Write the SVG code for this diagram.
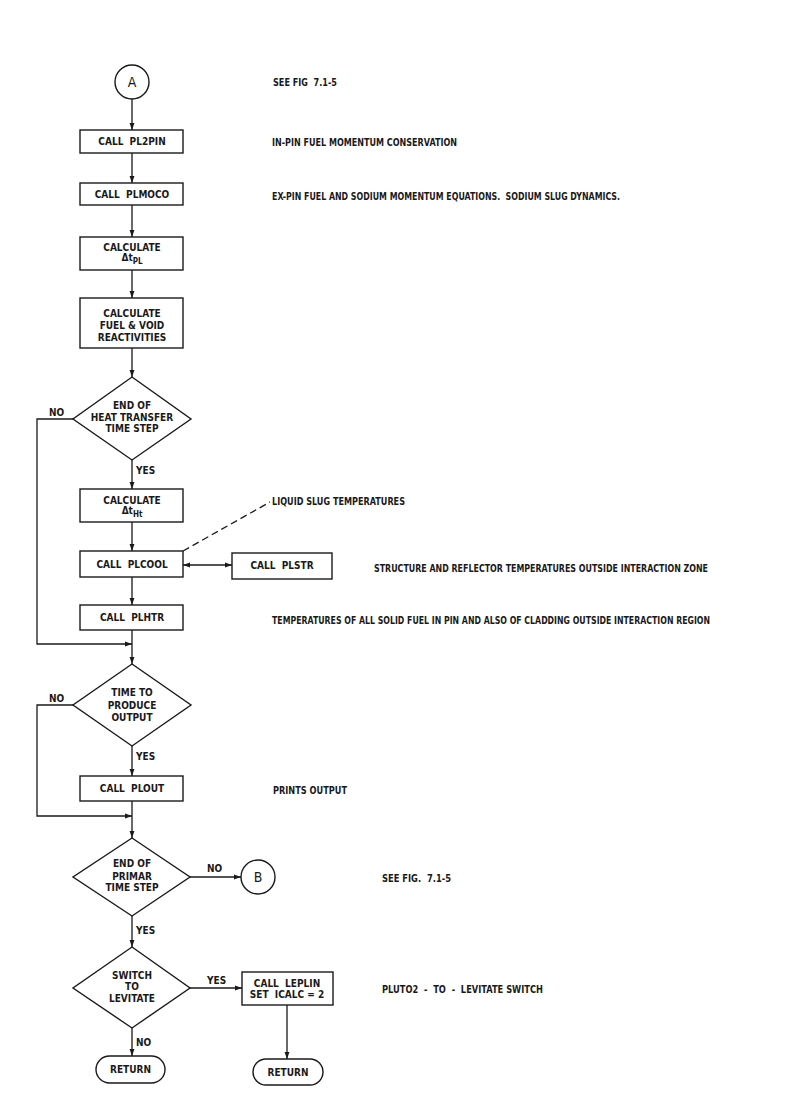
<svg xmlns="http://www.w3.org/2000/svg" width="791" height="1100" viewBox="0 0 791 1100">
<defs>
<marker id="ah" viewBox="0 0 10 10" refX="10" refY="5" markerWidth="7" markerHeight="7" markerUnits="userSpaceOnUse" orient="auto-start-reverse">
<path d="M0,1.5 L10,5 L0,8.5 z" fill="#1a1a1a"/>
</marker>
<style>
.s{fill:#fff;stroke:#1a1a1a;stroke-width:1.4}
.c{fill:none;stroke:#1a1a1a;stroke-width:1.3}
.a{marker-end:url(#ah)}
.d{stroke-dasharray:7,4}
text{font-family:'Liberation Sans Narrow','DejaVu Sans Condensed','Liberation Sans',sans-serif;font-weight:bold;font-size:10px;fill:#1a1a1a;white-space:pre}
.m{text-anchor:middle}
.sub{font-size:8px}
.big{font-size:14px;font-weight:normal}
</style>
</defs>
<rect width="791" height="1100" fill="#fff"/>

<g id="connectors">
<line class="c a" x1="132" y1="99" x2="132" y2="130"/>
<line class="c a" x1="132" y1="153" x2="132" y2="183"/>
<line class="c a" x1="132" y1="205" x2="132" y2="237"/>
<line class="c a" x1="132" y1="270" x2="132" y2="298"/>
<line class="c a" x1="132" y1="348" x2="132" y2="377"/>
<polyline class="c a" points="73,419 37,419 37,644 132,644"/>
<line class="c a" x1="132" y1="460" x2="132" y2="489"/>
<line class="c a" x1="132" y1="522" x2="132" y2="551"/>
<line class="c" x1="183" y1="565" x2="232" y2="565" marker-start="url(#ah)" marker-end="url(#ah)"/>
<line class="c d" x1="183" y1="551" x2="270" y2="502"/>
<line class="c a" x1="132" y1="577" x2="132" y2="605"/>
<line class="c a" x1="132" y1="630" x2="132" y2="664"/>
<polyline class="c a" points="73,705 37,705 37,816 132,816"/>
<line class="c a" x1="132" y1="746" x2="132" y2="776"/>
<line class="c a" x1="132" y1="801" x2="132" y2="838"/>
<line class="c a" x1="190" y1="877" x2="241" y2="877"/>
<line class="c a" x1="132" y1="916" x2="132" y2="947"/>
<line class="c a" x1="190" y1="988" x2="242" y2="988"/>
<line class="c a" x1="287" y1="1005" x2="287" y2="1059"/>
<line class="c a" x1="132" y1="1028" x2="132" y2="1056"/>
<text x="49" y="416">NO</text>
<text x="136" y="474">YES</text>
<text x="49" y="702">NO</text>
<text x="136" y="760">YES</text>
<text x="207" y="872">NO</text>
<text x="136" y="934">YES</text>
<text x="207" y="984">YES</text>
<text x="136" y="1046">NO</text>
</g>

<g id="nodeA"><circle class="s" cx="132" cy="82" r="17"/><text class="m big" x="132" y="87">A</text></g>
<g id="pl2pin"><rect class="s" x="80" y="130" width="103" height="23"/><text class="m" x="132" y="145">CALL  PL2PIN</text></g>
<g id="plmoco"><rect class="s" x="80" y="183" width="103" height="22"/><text class="m" x="132" y="198">CALL  PLMOCO</text></g>
<g id="calcPL"><rect class="s" x="80" y="237" width="103" height="33"/><text class="m" x="132" y="251">CALCULATE</text><text class="m" x="132" y="261">Δt<tspan class="sub" dy="3">PL</tspan></text></g>
<g id="fuelvoid"><rect class="s" x="80" y="298" width="103" height="50"/><text class="m" x="132" y="317">CALCULATE</text><text class="m" x="132" y="329">FUEL &amp; VOID</text><text class="m" x="132" y="341">REACTIVITIES</text></g>
<g id="dec1"><polygon class="s" points="132,377 191,419 132,460 73,419"/><text class="m" x="132" y="409">END OF</text><text class="m" x="132" y="421">HEAT TRANSFER</text><text class="m" x="132" y="432">TIME STEP</text></g>
<g id="calcHt"><rect class="s" x="80" y="489" width="103" height="33"/><text class="m" x="132" y="504">CALCULATE</text><text class="m" x="132" y="514">Δt<tspan class="sub" dy="3">Ht</tspan></text></g>
<g id="plcool"><rect class="s" x="80" y="551" width="103" height="26"/><text class="m" x="132" y="568">CALL  PLCOOL</text></g>
<g id="plstr"><rect class="s" x="232" y="553" width="100" height="26"/><text class="m" x="282" y="569">CALL  PLSTR</text></g>
<g id="plhtr"><rect class="s" x="80" y="605" width="103" height="25"/><text class="m" x="132" y="621">CALL  PLHTR</text></g>
<g id="dec2"><polygon class="s" points="132,664 191,705 132,746 73,705"/><text class="m" x="132" y="696">TIME TO</text><text class="m" x="132" y="709">PRODUCE</text><text class="m" x="132" y="721">OUTPUT</text></g>
<g id="plout"><rect class="s" x="80" y="776" width="103" height="25"/><text class="m" x="132" y="792">CALL  PLOUT</text></g>
<g id="dec3"><polygon class="s" points="132,838 190,877 132,916 73,877"/><text class="m" x="132" y="867">END OF</text><text class="m" x="132" y="880">PRIMAR</text><text class="m" x="132" y="891">TIME STEP</text></g>
<g id="nodeB"><circle class="s" cx="258" cy="877" r="17"/><text class="m big" x="258" y="882">B</text></g>
<g id="dec4"><polygon class="s" points="132,947 190,988 132,1028 73,988"/><text class="m" x="132" y="979">SWITCH</text><text class="m" x="132" y="990">TO</text><text class="m" x="132" y="1002">LEVITATE</text></g>
<g id="leplin"><rect class="s" x="242" y="972" width="91" height="33"/><text class="m" x="287" y="987">CALL  LEPLIN</text><text class="m" x="287" y="998">SET  ICALC = 2</text></g>
<g id="return1"><rect class="s" x="96" y="1056" width="69" height="27" rx="13.5"/><text class="m" x="130.5" y="1073">RETURN</text></g>
<g id="return2"><rect class="s" x="253" y="1059" width="70" height="26" rx="13"/><text class="m" x="288" y="1076">RETURN</text></g>

<g id="notes">
<text x="273" y="86" textLength="64" lengthAdjust="spacingAndGlyphs">SEE FIG  7.1-5</text>
<text x="272" y="146" textLength="185" lengthAdjust="spacingAndGlyphs">IN-PIN FUEL MOMENTUM CONSERVATION</text>
<text x="272" y="200" textLength="348" lengthAdjust="spacingAndGlyphs">EX-PIN FUEL AND SODIUM MOMENTUM EQUATIONS.  SODIUM SLUG DYNAMICS.</text>
<text x="272" y="505" textLength="133" lengthAdjust="spacingAndGlyphs">LIQUID SLUG TEMPERATURES</text>
<text x="374" y="572" textLength="334" lengthAdjust="spacingAndGlyphs">STRUCTURE AND REFLECTOR TEMPERATURES OUTSIDE INTERACTION ZONE</text>
<text x="272" y="624" textLength="438" lengthAdjust="spacingAndGlyphs">TEMPERATURES OF ALL SOLID FUEL IN PIN AND ALSO OF CLADDING OUTSIDE INTERACTION REGION</text>
<text x="273" y="794" textLength="74" lengthAdjust="spacingAndGlyphs">PRINTS OUTPUT</text>
<text x="382" y="882" textLength="69" lengthAdjust="spacingAndGlyphs">SEE FIG.  7.1-5</text>
<text x="382" y="993" textLength="161" lengthAdjust="spacingAndGlyphs">PLUTO2  -  TO  -  LEVITATE SWITCH</text>
</g>
</svg>
